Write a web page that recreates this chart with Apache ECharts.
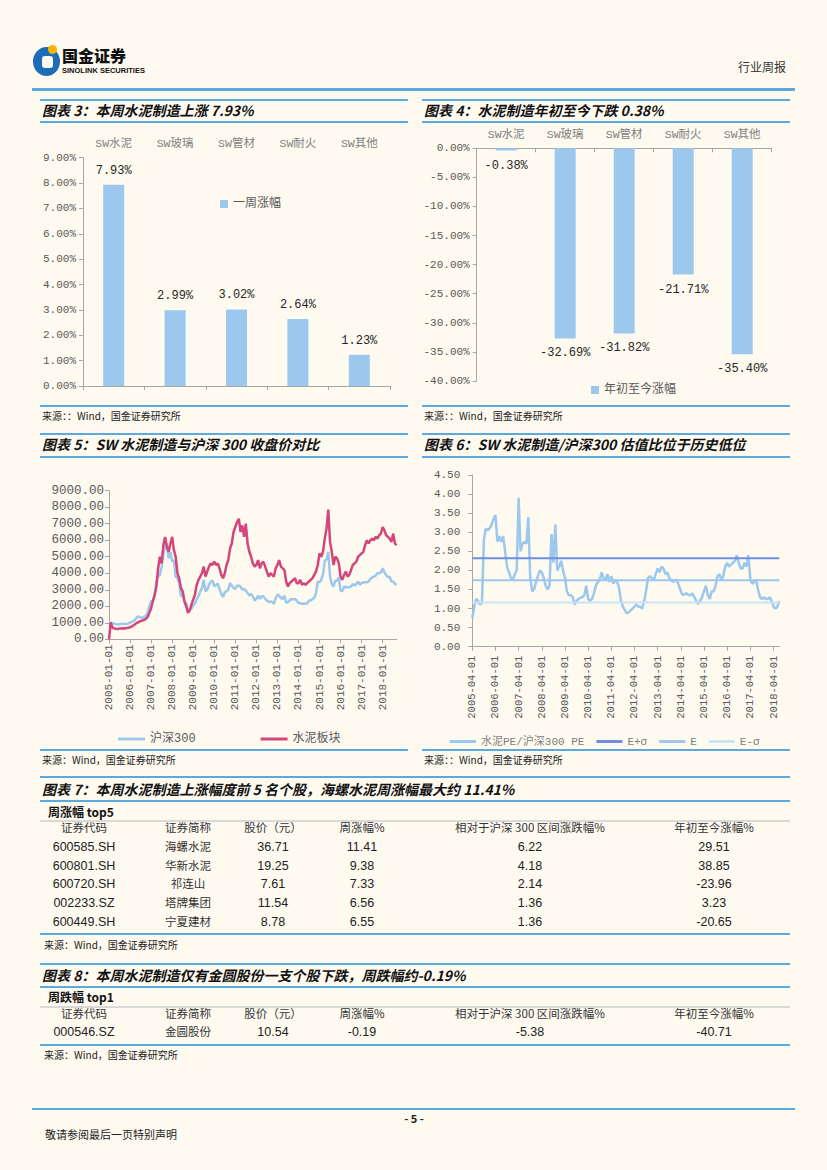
<!DOCTYPE html>
<html><head><meta charset="utf-8">
<script src="https://cdn.jsdelivr.net/npm/echarts@6/dist/echarts.min.js"></script>
<style>
body{margin:0;background:#FEFAF0;width:827px;height:1170px;position:relative;overflow:hidden;font-family:"Noto Sans CJK SC",sans-serif;color:#222}
.a{position:absolute;white-space:nowrap;line-height:1}
.bl{position:absolute;background:#5AAADF;height:2px}
.gl{position:absolute;background:#D9D9D9;height:2px}
.ttl{position:absolute;white-space:nowrap;line-height:1;font-style:italic;font-weight:700;font-size:14px;color:#111}
.src{position:absolute;white-space:nowrap;line-height:1;font-size:10px;color:#222}
.cell{position:absolute;width:160px;text-align:center;white-space:nowrap;line-height:1}
.zh{font-size:11.5px;color:#333}
.num{font-family:"Liberation Sans Narrow","Liberation Sans",sans-serif;font-stretch:condensed;font-size:12.5px;color:#222}
.ch{position:absolute}
</style></head>
<body>
<!-- header -->
<div class="a" style="left:33px;top:47px;width:27px;height:29px;border-radius:50%;background:#1B6DB5"></div>
<div class="a" style="left:42px;top:56px;width:11px;height:12px;border-radius:3px;background:#FEFAF0"></div>
<div class="a" style="left:48px;top:45px;width:9px;height:9px;border-radius:50%;background:#F3B500"></div>
<div class="a" style="left:62px;top:47px;font-size:16px;font-weight:900;color:#111">国金证券</div>
<div class="a" style="left:62px;top:67px;font-size:7.5px;font-weight:700;color:#111;font-family:'Liberation Sans',sans-serif">SINOLINK SECURITIES</div>
<div class="a" style="left:738px;top:61px;font-size:12px;color:#333">行业周报</div>
<div class="bl" style="left:32px;width:763px;top:88px;height:2.5px"></div>

<!-- chart 3 / 4 headers -->
<div class="bl" style="left:40px;width:368px;top:99px"></div>
<div class="ttl" style="left:42px;top:103px">图表 3：本周水泥制造上涨 7.93%</div>
<div class="bl" style="left:40px;width:368px;top:121px"></div>
<div class="bl" style="left:422px;width:368px;top:99px"></div>
<div class="ttl" style="left:424px;top:103px">图表 4：水泥制造年初至今下跌 0.38%</div>
<div class="bl" style="left:422px;width:368px;top:121px"></div>
<div id="c3" class="ch" style="left:40px;top:125px;width:370px;height:275px"></div>
<div id="c4" class="ch" style="left:415px;top:120px;width:380px;height:282px"></div>
<div class="bl" style="left:40px;width:368px;top:405px"></div>
<div class="src" style="left:42px;top:411px">来源：：Wind，国金证券研究所</div>
<div class="bl" style="left:422px;width:368px;top:405px"></div>
<div class="src" style="left:424px;top:411px">来源：：Wind，国金证券研究所</div>

<!-- chart 5 / 6 headers -->
<div class="bl" style="left:40px;width:368px;top:433px"></div>
<div class="ttl" style="left:42px;top:437px">图表 5：SW 水泥制造与沪深 300 收盘价对比</div>
<div class="bl" style="left:40px;width:368px;top:456px"></div>
<div class="bl" style="left:422px;width:368px;top:433px"></div>
<div class="ttl" style="left:424px;top:437px">图表 6：SW 水泥制造/沪深300 估值比位于历史低位</div>
<div class="bl" style="left:422px;width:368px;top:456px"></div>
<div id="c5" class="ch" style="left:40px;top:460px;width:370px;height:287px"></div>
<div id="c6" class="ch" style="left:415px;top:460px;width:380px;height:287px"></div>
<div class="bl" style="left:40px;width:368px;top:749px"></div>
<div class="src" style="left:42px;top:755px">来源：Wind，国金证券研究所</div>
<div class="bl" style="left:422px;width:368px;top:749px"></div>
<div class="src" style="left:424px;top:755px">来源：：Wind，国金证券研究所</div>

<!-- table 7 -->
<div class="bl" style="left:40px;width:750px;top:776px"></div>
<div class="ttl" style="left:42px;top:782px">图表 7：本周水泥制造上涨幅度前 5 名个股，海螺水泥周涨幅最大约 11.41%</div>
<div class="bl" style="left:40px;width:750px;top:800px"></div>
<div class="a" style="left:48px;top:806px;font-size:12px;font-weight:700;color:#111">周涨幅 top5</div>
<div class="gl" style="left:40px;width:750px;top:820px"></div>
<div class="bl" style="left:40px;width:750px;top:933px"></div>
<div class="src" style="left:44px;top:940px">来源：Wind，国金证券研究所</div>

<!-- table 8 -->
<div class="bl" style="left:40px;width:750px;top:963px"></div>
<div class="ttl" style="left:42px;top:968px">图表 8：本周水泥制造仅有金圆股份一支个股下跌，周跌幅约-0.19%</div>
<div class="bl" style="left:40px;width:750px;top:986px"></div>
<div class="a" style="left:48px;top:991px;font-size:12px;font-weight:700;color:#111">周跌幅 top1</div>
<div class="gl" style="left:40px;width:750px;top:1006px"></div>
<div class="bl" style="left:40px;width:750px;top:1044px"></div>
<div class="src" style="left:44px;top:1050px">来源：Wind，国金证券研究所</div>

<!-- footer -->
<div class="bl" style="left:32px;width:763px;top:1108px"></div>
<div class="a" style="left:394px;width:40px;text-align:center;top:1113px;font-size:11px;font-weight:700;color:#222">- 5 -</div>
<div class="a" style="left:45px;top:1129px;font-size:11px;color:#222">敬请参阅最后一页特别声明</div>

<script>
// ---------- data ----------
const sectors = ['SW水泥','SW玻璃','SW管材','SW耐火','SW其他'];
const weeklyChange = [7.93, 2.99, 3.02, 2.64, 1.23];
const ytdChange = [-0.38, -32.69, -31.82, -21.71, -35.40];

// monthly closes 2005-01 .. 2018-09
const hs300 = [
 1000, 990, 970, 950, 920, 900, 920, 940, 940, 920, 930, 950,
 1020, 1060, 1100, 1200, 1350, 1380, 1300, 1300, 1350, 1420, 1600, 2000,
 2300, 2350, 2750, 3500, 3800, 3900, 4400, 5200, 5600, 5700, 4900, 5300,
 4700, 4800, 3800, 3700, 3400, 2600, 2700, 2300, 2200, 1700, 1800, 1850,
 2050, 2150, 2450, 2600, 2900, 3100, 3600, 2900, 3000, 3300, 3500, 3550,
 3200, 3300, 3350, 3050, 2750, 2550, 2850, 2900, 3000, 3400, 3250, 3100,
 3050, 3250, 3250, 3200, 3000, 3050, 2950, 2800, 2650, 2750, 2600, 2350,
 2450, 2650, 2450, 2600, 2600, 2450, 2350, 2250, 2300, 2250, 2150, 2500,
 2700, 2650, 2500, 2450, 2650, 2200, 2250, 2350, 2450, 2400, 2450, 2350,
 2200, 2200, 2150, 2150, 2170, 2170, 2350, 2350, 2450, 2500, 2800, 3500,
 3450, 3600, 3950, 4750, 4850, 5300, 3800, 3350, 3200, 3550, 3550, 3750,
 2950, 2900, 3200, 3150, 3150, 3150, 3200, 3350, 3250, 3350, 3500, 3300,
 3400, 3450, 3450, 3450, 3500, 3650, 3750, 3800, 3850, 4000, 4000, 4050,
 4300, 4050, 3900, 3750, 3800, 3500, 3500, 3350, 3300
];
const cementIdx = [
 0, 1020, 700, 660, 640, 630, 650, 660, 670, 660, 680, 700,
 730, 780, 850, 930, 1000, 1060, 1100, 1130, 1180, 1230, 1350, 1600,
 1880, 2300, 2650, 3200, 4300, 5000, 4600, 5700, 6200, 5600, 5300, 5800,
 6200, 5400, 5000, 4000, 3700, 3100, 2900, 2300, 2000, 1600, 1750, 2100,
 2400, 2700, 3300, 3600, 3800, 4000, 4400, 3800, 4100, 4400, 4600, 4500,
 4700, 4500, 4600, 4300, 3900, 3700, 4000, 4500, 4800, 5500, 5800, 6500,
 6800, 7100, 7300, 6500, 6900, 6200, 7000, 5800, 5300, 5000, 4600, 4400,
 4500, 4800, 4300, 4600, 4700, 4400, 4100, 3800, 4000, 3900, 3800, 4300,
 4500, 4800, 4400, 4300, 4200, 3500, 3200, 3400, 3500, 3600, 3700, 3400,
 3400, 3600, 3300, 3400, 3300, 3400, 3500, 3600, 3700, 3900, 4100, 4500,
 5200, 5000, 5300, 6100, 6700, 7850, 5900, 5300, 4500, 5000, 4900, 4600,
 3800, 3600, 3900, 4100, 3800, 3900, 4200, 4500, 4600, 4700, 5000, 5100,
 5200, 5300, 5700, 6000, 5800, 6000, 6100, 6000, 6200, 6100, 6300, 6400,
 6800, 6600, 6300, 6200, 6100, 5900, 6400, 5800, 5700
];
// monthly PE ratio 2005-04 .. 2018-07
const peRatio = [
 0.75, 1.05, 1.25, 1.2, 1.1, 1.15, 2.8, 3.1, 3.05, 3.1, 3.2, 3.35,
 3.45, 2.75, 2.9, 2.75, 2.9, 2.5, 2.1, 1.95, 1.8, 1.75, 1.9, 2.0,
 3.9, 2.5, 2.7, 2.75, 2.7, 3.4, 1.8, 1.45, 1.5, 1.7, 1.85, 2.0,
 1.95, 1.8, 1.6, 1.5, 1.6, 2.95, 2.2, 3.2, 2.0, 2.1, 2.25, 2.0,
 1.8, 1.45, 1.35, 1.35, 1.3, 1.1, 1.2, 1.25, 1.28, 1.3, 1.35, 1.6,
 1.25, 1.2, 1.25, 1.4, 1.6, 1.7, 1.75, 1.95, 1.8, 1.75, 1.9, 1.7,
 1.85, 1.65, 1.75, 1.7, 1.55, 1.2, 1.05, 0.96, 0.87, 0.9, 0.95, 1.0,
 1.05, 1.1, 1.05, 1.05, 1.0, 1.2, 1.45, 1.8, 1.85, 1.8, 1.75, 1.9,
 2.05, 1.95, 2.1, 2.05, 1.9, 1.95, 1.8, 1.75, 1.7, 1.75, 1.75, 1.6,
 1.45, 1.35, 1.38, 1.4, 1.35, 1.35, 1.4, 1.3, 1.2, 1.12, 1.2, 1.3,
 1.45, 1.6, 1.35, 1.25, 1.45, 1.45, 1.6, 1.85, 1.9, 1.75, 1.85, 2.1,
 2.2, 2.1, 2.15, 2.2, 2.25, 2.4, 2.2, 2.05, 2.05, 2.2, 2.1, 2.4,
 1.75, 1.65, 1.7, 1.75, 1.5, 1.3, 1.25, 1.3, 1.25, 1.25, 1.3, 1.2,
 1.05, 1.0, 1.05, 1.2
];
const bandNames = ['E+σ', 'E', 'E-σ'];
const bandValues = [2.32, 1.74, 1.16];

const tableHeader = ['证券代码','证券简称','股价（元）','周涨幅%','相对于沪深 300 区间涨跌幅%','年初至今涨幅%'];
const top5Codes = ['600585.SH','600801.SH','600720.SH','002233.SZ','600449.SH'];
const top5Names = ['海螺水泥','华新水泥','祁连山','塔牌集团','宁夏建材'];
const top5Price = ['36.71','19.25','7.61','11.54','8.78'];
const top5Week = ['11.41','9.38','7.33','6.56','6.55'];
const top5Rel = ['6.22','4.18','2.14','1.36','1.36'];
const top5Ytd = ['29.51','38.85','-23.96','3.23','-20.65'];
const down1Codes = ['000546.SZ'];
const down1Names = ['金圆股份'];
const down1Price = ['10.54'];
const down1Week = ['-0.19'];
const down1Rel = ['-5.38'];
const down1Ytd = ['-40.71'];

// ---------- tables ----------
const colX = [84, 188, 273, 362, 530, 714];
function cell(x, yc, txt, cls){
  const d = document.createElement('div');
  d.className = 'cell ' + cls;
  d.style.left = (x - 80) + 'px';
  d.style.top = (yc - 7) + 'px';
  d.textContent = txt;
  document.body.appendChild(d);
}
function table(headY, rowYs, cols){
  tableHeader.forEach((h,i)=>cell(colX[i], headY, h, 'zh'));
  rowYs.forEach((y,r)=>{
    cols.forEach((col,i)=>cell(colX[i], y, col[r], i===1?'zh':'num'));
  });
}
table(829, [848, 867, 885, 904, 922.5], [top5Codes, top5Names, top5Price, top5Week, top5Rel, top5Ytd]);
table(1015, [1033], [down1Codes, down1Names, down1Price, down1Week, down1Rel, down1Ytd]);

// ---------- charts ----------
const mono = '"Liberation Mono","Noto Sans CJK SC",monospace';
const axisGrey = '#A6A6A6';
const barBlue = '#9DC8EE';

function months(y0, m0, n){
  const out = [];
  for (let i=0;i<n;i++){
    const t = (m0-1) + i;
    const y = y0 + Math.floor(t/12), m = t%12 + 1;
    out.push(y + '-' + String(m).padStart(2,'0') + '-01');
  }
  return out;
}
const months5 = months(2005, 1, hs300.length);
const months6 = months(2005, 4, peRatio.length);

const c3 = echarts.init(document.getElementById('c3'), null, {renderer:'svg'});
c3.setOption({
  animation:false,
  grid:{left:41.7, top:32.7, right:20, bottom:14},
  legend:{data:['一周涨幅'], left:175, top:68, icon:'rect', itemWidth:8, itemHeight:8, itemGap:4,
          textStyle:{fontSize:12, color:'#595959', fontFamily:mono}},
  xAxis:[
    {type:'category', data:sectors, axisLine:{lineStyle:{color:axisGrey}},
     axisTick:{show:true, length:4, lineStyle:{color:axisGrey}}, axisLabel:{show:false}},
    {type:'category', data:sectors, position:'top', axisLine:{show:false}, axisTick:{show:false},
     axisLabel:{color:'#7F7F7F', fontSize:11.5, fontFamily:mono, margin:8}}
  ],
  yAxis:{type:'value', min:0, max:9, interval:1, splitLine:{show:false},
    axisLine:{show:true, lineStyle:{color:axisGrey}}, axisTick:{show:true, length:4, lineStyle:{color:axisGrey}},
    axisLabel:{formatter:v=>v.toFixed(2)+'%', color:'#595959', fontSize:11, fontFamily:mono, margin:7}},
  series:[{name:'一周涨幅', type:'bar', data:weeklyChange, barWidth:21, itemStyle:{color:barBlue},
    label:{show:true, position:'top', distance:8, formatter:p=>p.value.toFixed(2)+'%', color:'#262626', fontSize:12, fontFamily:mono}}]
});

const c4 = echarts.init(document.getElementById('c4'), null, {renderer:'svg'});
c4.setOption({
  animation:false,
  grid:{left:61.7, top:28.3, right:23.3, bottom:21},
  legend:{data:['年初至今涨幅'], left:171, top:259, icon:'rect', itemWidth:8, itemHeight:8, itemGap:4,
          textStyle:{fontSize:12, color:'#595959', fontFamily:mono}},
  xAxis:{type:'category', data:sectors, position:'top', axisLine:{lineStyle:{color:axisGrey}},
    axisTick:{show:true, inside:true, length:4, lineStyle:{color:axisGrey}},
    axisLabel:{color:'#7F7F7F', fontSize:11.5, fontFamily:mono, margin:8}},
  yAxis:{type:'value', min:-40, max:0, interval:5, splitLine:{show:false},
    axisLine:{show:true, lineStyle:{color:axisGrey}}, axisTick:{show:true, length:4, lineStyle:{color:axisGrey}},
    axisLabel:{formatter:v=>v.toFixed(2)+'%', color:'#595959', fontSize:11, fontFamily:mono, margin:7}},
  series:[{name:'年初至今涨幅', type:'bar', data:ytdChange, barWidth:21, itemStyle:{color:barBlue},
    label:{show:true, position:'bottom', distance:9, formatter:p=>p.value.toFixed(2)+'%', color:'#262626', fontSize:12, fontFamily:mono}}]
});

const yearTick = (i)=> i%12===0;
const c5 = echarts.init(document.getElementById('c5'), null, {renderer:'svg'});
c5.setOption({
  animation:false,
  grid:{left:69, top:30.7, right:13.3, bottom:107.7},
  legend:{data:['沪深300','水泥板块'], left:73, top:268, icon:'rect', itemWidth:27, itemHeight:3, itemGap:65,
          textStyle:{fontSize:12, color:'#595959', fontFamily:mono}},
  xAxis:{type:'category', data:months5, boundaryGap:false, axisLine:{lineStyle:{color:axisGrey}},
    axisTick:{interval:yearTick, length:4, lineStyle:{color:axisGrey}},
    axisLabel:{interval:yearTick, rotate:90, fontSize:11, color:'#595959', fontFamily:mono, margin:5}},
  yAxis:{type:'value', min:0, max:9000, interval:1000, splitLine:{show:false},
    axisLine:{show:true, lineStyle:{color:axisGrey}}, axisTick:{show:true, length:4, lineStyle:{color:axisGrey}},
    axisLabel:{formatter:v=>v.toFixed(2), color:'#595959', fontSize:12.5, fontFamily:mono, margin:5}},
  series:[
    {name:'沪深300', type:'line', data:hs300, showSymbol:false, lineStyle:{width:2.5, color:'#9DC8EE'}, itemStyle:{color:'#9DC8EE'}},
    {name:'水泥板块', type:'line', data:cementIdx, showSymbol:false, lineStyle:{width:2.5, color:'#D4457A'}, itemStyle:{color:'#D4457A'}}
  ]
});

const bandColors = ['#6E8FE3', '#9DC8EE', '#CBE4F5'];
const c6 = echarts.init(document.getElementById('c6'), null, {renderer:'svg'});
c6.setOption({
  animation:false,
  grid:{left:57.3, top:15, right:15.7, bottom:100.3},
  legend:{data:['水泥PE/沪深300 PE'].concat(bandNames), left:30, top:271, icon:'rect', itemWidth:26, itemHeight:3, itemGap:12,
          textStyle:{fontSize:11, color:'#7F7F7F', fontFamily:mono}},
  xAxis:{type:'category', data:months6, boundaryGap:false, axisLine:{lineStyle:{color:axisGrey}},
    axisTick:{interval:yearTick, length:4, lineStyle:{color:axisGrey}},
    axisLabel:{interval:yearTick, rotate:90, fontSize:10.5, color:'#595959', fontFamily:mono, margin:9}},
  yAxis:{type:'value', min:0, max:4.5, interval:0.5, splitLine:{show:false},
    axisLine:{show:true, lineStyle:{color:axisGrey}}, axisTick:{show:true, length:4, lineStyle:{color:axisGrey}},
    axisLabel:{formatter:v=>v.toFixed(2), color:'#595959', fontSize:11, fontFamily:mono, margin:12}},
  series:[
    {name:'水泥PE/沪深300 PE', type:'line', data:peRatio, showSymbol:false, lineStyle:{width:2.5, color:'#9DC8EE'}, itemStyle:{color:'#9DC8EE'}}
  ].concat(bandNames.map((n,i)=>({
    name:n, type:'line', showSymbol:false, lineStyle:{width:2, color:bandColors[i]}, itemStyle:{color:bandColors[i]},
    data:[[months6[0], bandValues[i]], [months6[months6.length-1], bandValues[i]]]
  })))
});
</script>
</body></html>
